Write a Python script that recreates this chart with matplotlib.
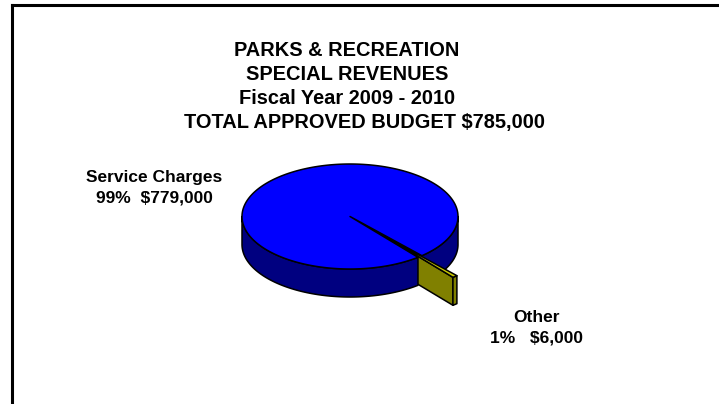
import numpy as np
import matplotlib.pyplot as plt
from matplotlib.patches import Polygon

plt.rcParams["font.family"] = ["Liberation Sans", "DejaVu Sans"]

# budget pieces
categories = ["Service Charges", "Other"]
amounts = [779000, 6000]
title_lines = ["PARKS & RECREATION", "SPECIAL REVENUES", "Fiscal Year 2009 - 2010"]

total = sum(amounts)
shares = [v / total for v in amounts]

# pie layout, in pixels
cx, cy = 350, 216.5
rx, ry = 108, 52.5
depth = 28
first_angle = 141  # clockwise from 12 o'clock
explode = [0, 0.5]
top_colors = ["#0000ff", "#c8c800"]
side_colors = ["#000080", "#808000"]
edge = dict(edgecolor="black", linewidth=1.1, joinstyle="round")

fig = plt.figure(figsize=(7.19, 4.04), dpi=100)
ax = fig.add_axes([0, 0, 1, 1])
ax.set_xlim(0, 719)
ax.set_ylim(404, 0)
ax.axis("off")


def screen(px, py, top=True):
    return cx + rx * np.asarray(px), cy - ry * np.asarray(py) + (0 if top else depth)


def arc(lo, hi, n=120):
    t = np.radians(np.linspace(lo, hi, n))
    return np.cos(t), np.sin(t)


def poly(xs, ys, color):
    ax.add_patch(Polygon(np.column_stack([xs, ys]), closed=True, facecolor=color, **edge))


# angular span of each slice (counter-clockwise lo -> hi, degrees)
spans = []
start = 90 - first_angle
for s in shares:
    hi = start
    lo = start - s * 360
    while lo < -180:
        lo, hi = lo + 360, hi + 360
    spans.append((lo, hi))
    start = lo

offsets = []
for (lo, hi), e in zip(spans, explode):
    mid = np.radians((lo + hi) / 2)
    offsets.append((e * np.cos(mid), e * np.sin(mid)))


def wall(i, lo, hi):
    ox, oy = offsets[i]
    ux, uy = arc(lo, hi)
    tx, ty = screen(ox + ux, oy + uy)
    bx, by = screen(ox + ux[::-1], oy + uy[::-1], top=False)
    poly(np.r_[tx, bx], np.r_[ty, by], side_colors[i])


def radial_face(i, ang):
    ox, oy = offsets[i]
    ux, uy = np.cos(np.radians(ang)), np.sin(np.radians(ang))
    px = np.array([ox, ox + ux, ox + ux, ox])
    py = np.array([oy, oy + uy, oy + uy, oy])
    xs, ys_top = screen(px, py)
    ys = ys_top + np.array([0, 0, depth, depth])
    poly(xs, ys, side_colors[i])


def top(i):
    lo, hi = spans[i]
    ox, oy = offsets[i]
    ux, uy = arc(lo, hi, 360)
    xs, ys = screen(np.r_[ox, ox + ux], np.r_[oy, oy + uy])
    poly(xs, ys, top_colors[i])


big, small = 0, 1
blo, bhi = spans[big]
slo, shi = spans[small]

# walls behind the small slice first, then the slice, then the front
wall(big, blo, 0)
radial_face(big, blo)
radial_face(small, slo)
wall(small, slo, shi)
wall(big, 180, bhi)
top(big)
top(small)

# titles
for k, line in enumerate(title_lines):
    ax.text(347, 55.7 + 24 * k, line, ha="center", va="baseline",
            fontsize=14.4, fontweight="bold")
ax.text(364, 55.7 + 24 * 3, f"TOTAL APPROVED BUDGET ${total:,}", ha="center",
        va="baseline", fontsize=14.4, fontweight="bold")

# slice labels
label_pos = [(154, 181.7), (537, 321.7)]
gaps = ["  ", "   "]
for (lx, ly), cat, v, s, gap in zip(label_pos, categories, amounts, shares, gaps):
    ax.text(lx, ly, cat, ha="center", va="baseline", fontsize=12.5, fontweight="bold")
    ax.text(lx, ly + 21, f"{s * 100:.0f}%{gap}${v:,}", ha="center", va="baseline",
            fontsize=12.5, fontweight="bold")

# chart frame
ax.plot([11.5, 730], [5.3, 5.3], color="black", linewidth=2.2, solid_capstyle="projecting")
ax.plot([11.5, 11.5], [5.3, 420], color="black", linewidth=2.2, solid_capstyle="projecting")

fig.savefig("out.png", dpi=100)
